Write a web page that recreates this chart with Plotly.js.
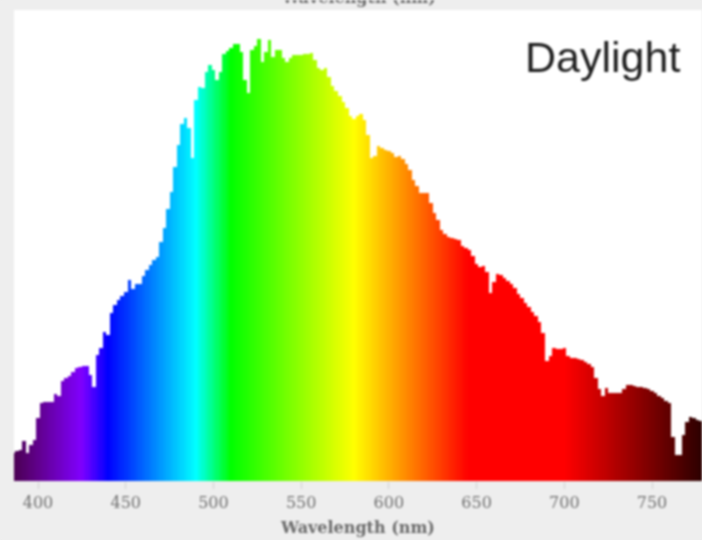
<!DOCTYPE html>
<html>
<head>
<meta charset="utf-8">
<script src="https://cdn.plot.ly/plotly-3.0.1.min.js"></script>
<style>
html,body{margin:0;padding:0;background:#eeeeee;overflow:hidden}
#chart{width:702px;height:540px;filter:blur(1.1px)}
</style>
</head>
<body>
<div id="chart"></div>
<script>
const wavelengths = [386,388,390,392,394,396,398,400,402,404,406,408,410,412,414,416,418,420,422,424,426,428,430,432,434,436,438,440,442,444,446,448,450,452,454,456,458,460,462,464,466,468,470,472,474,476,478,480,482,484,486,488,490,492,494,496,498,500,502,504,506,508,510,512,514,516,518,520,522,524,526,528,530,532,534,536,538,540,542,544,546,548,550,552,554,556,558,560,562,564,566,568,570,572,574,576,578,580,582,584,586,588,590,592,594,596,598,600,602,604,606,608,610,612,614,616,618,620,622,624,626,628,630,632,634,636,638,640,642,644,646,648,650,652,654,656,658,660,662,664,666,668,670,672,674,676,678,680,682,684,686,688,690,692,694,696,698,700,702,704,706,708,710,712,714,716,718,720,722,724,726,728,730,732,734,736,738,740,742,744,746,748,750,752,754,756,758,760,762,764,766,768,770,772,774,776,778];
const intensity = [28,30,31,40,28,36,41,63,78,79,79,79,87,85,100,103,105,109,113,114,115,115,106,94,126,133,149,146,168,176,181,185,189,201,192,197,197,205,211,216,221,224,239,253,272,289,314,336,357,363,353,323,381,394,393,409,416,411,401,409,427,430,433,437,437,429,401,388,431,435,442,419,429,441,424,431,431,423,419,423,426,426,426,427,427,428,421,413,411,413,404,395,390,385,379,373,365,362,365,367,361,346,323,325,335,333,331,330,328,324,325,322,317,311,301,295,288,288,288,278,268,261,251,247,244,243,242,241,235,233,231,225,217,214,215,209,188,199,207,206,203,200,197,193,187,183,178,174,169,165,159,148,120,125,133,132,132,133,125,123,123,122,121,119,117,114,103,92,85,93,88,88,88,88,92,96,96,95,94,94,93,92,90,88,85,83,80,78,44,26,26,46,59,64,63,61,60];
const tickValues = [400,450,500,550,600,650,700,750];
const stopNm = [386,400,425,440,490,510,580,645,700,780];
const stopColors = ['#4a0050','#60008c','#8000ff','#0000ff','#00ffff','#00ff00','#ffff00','#ff0000','#ff0000','#280000'];
const axisTitle = 'Wavelength (nm)';
const label = 'Daylight';

const nmLo = stopNm[0], nmHi = stopNm[stopNm.length-1];
const colorscale = stopNm.map((n,i)=>[(n-nmLo)/(nmHi-nmLo), stopColors[i]]);
const serif = '"DejaVu Serif", "Liberation Serif", serif';

Plotly.newPlot('chart', [{
  type:'bar',
  x:wavelengths,
  y:intensity,
  width:2,
  marker:{color:wavelengths, colorscale:colorscale, cmin:nmLo, cmax:nmHi, showscale:false, line:{width:0}},
  hoverinfo:'x+y'
}], {
  width:702, height:540,
  margin:{l:14,r:0,t:10,b:59,pad:0},
  paper_bgcolor:'#eeeeee',
  plot_bgcolor:'#ffffff',
  bargap:0,
  showlegend:false,
  xaxis:{
    range:[386.3,778.5],
    tickmode:'array',
    tickvals:tickValues,
    ticktext:tickValues.map(String),
    ticks:'outside', ticklen:7, tickcolor:'#d0d0d0', tickwidth:1,
    tickfont:{family:serif,size:16,color:'#707070'},
    showgrid:false, zeroline:false, showline:false,
    title:{text:'<b>'+axisTitle+'</b>',font:{family:serif,size:16,color:'#6a6a6a'},standoff:10}
  },
  yaxis:{range:[0,471],visible:false,fixedrange:true},
  annotations:[
    {xref:'paper',yref:'paper',x:1,y:1,xanchor:'right',yanchor:'top',xshift:-20,yshift:-21,
     text:label,showarrow:false,font:{family:'"Liberation Sans",Arial,sans-serif',size:43,color:'#1e1e1e'}},
    {xref:'paper',yref:'paper',x:0.5,y:1,xanchor:'center',yanchor:'bottom',yshift:1,
     text:'<b>'+axisTitle+'</b>',showarrow:false,font:{family:serif,size:16,color:'#6a6a6a'}}
  ]
},{displayModeBar:false,staticPlot:true});
</script>
</body>
</html>
